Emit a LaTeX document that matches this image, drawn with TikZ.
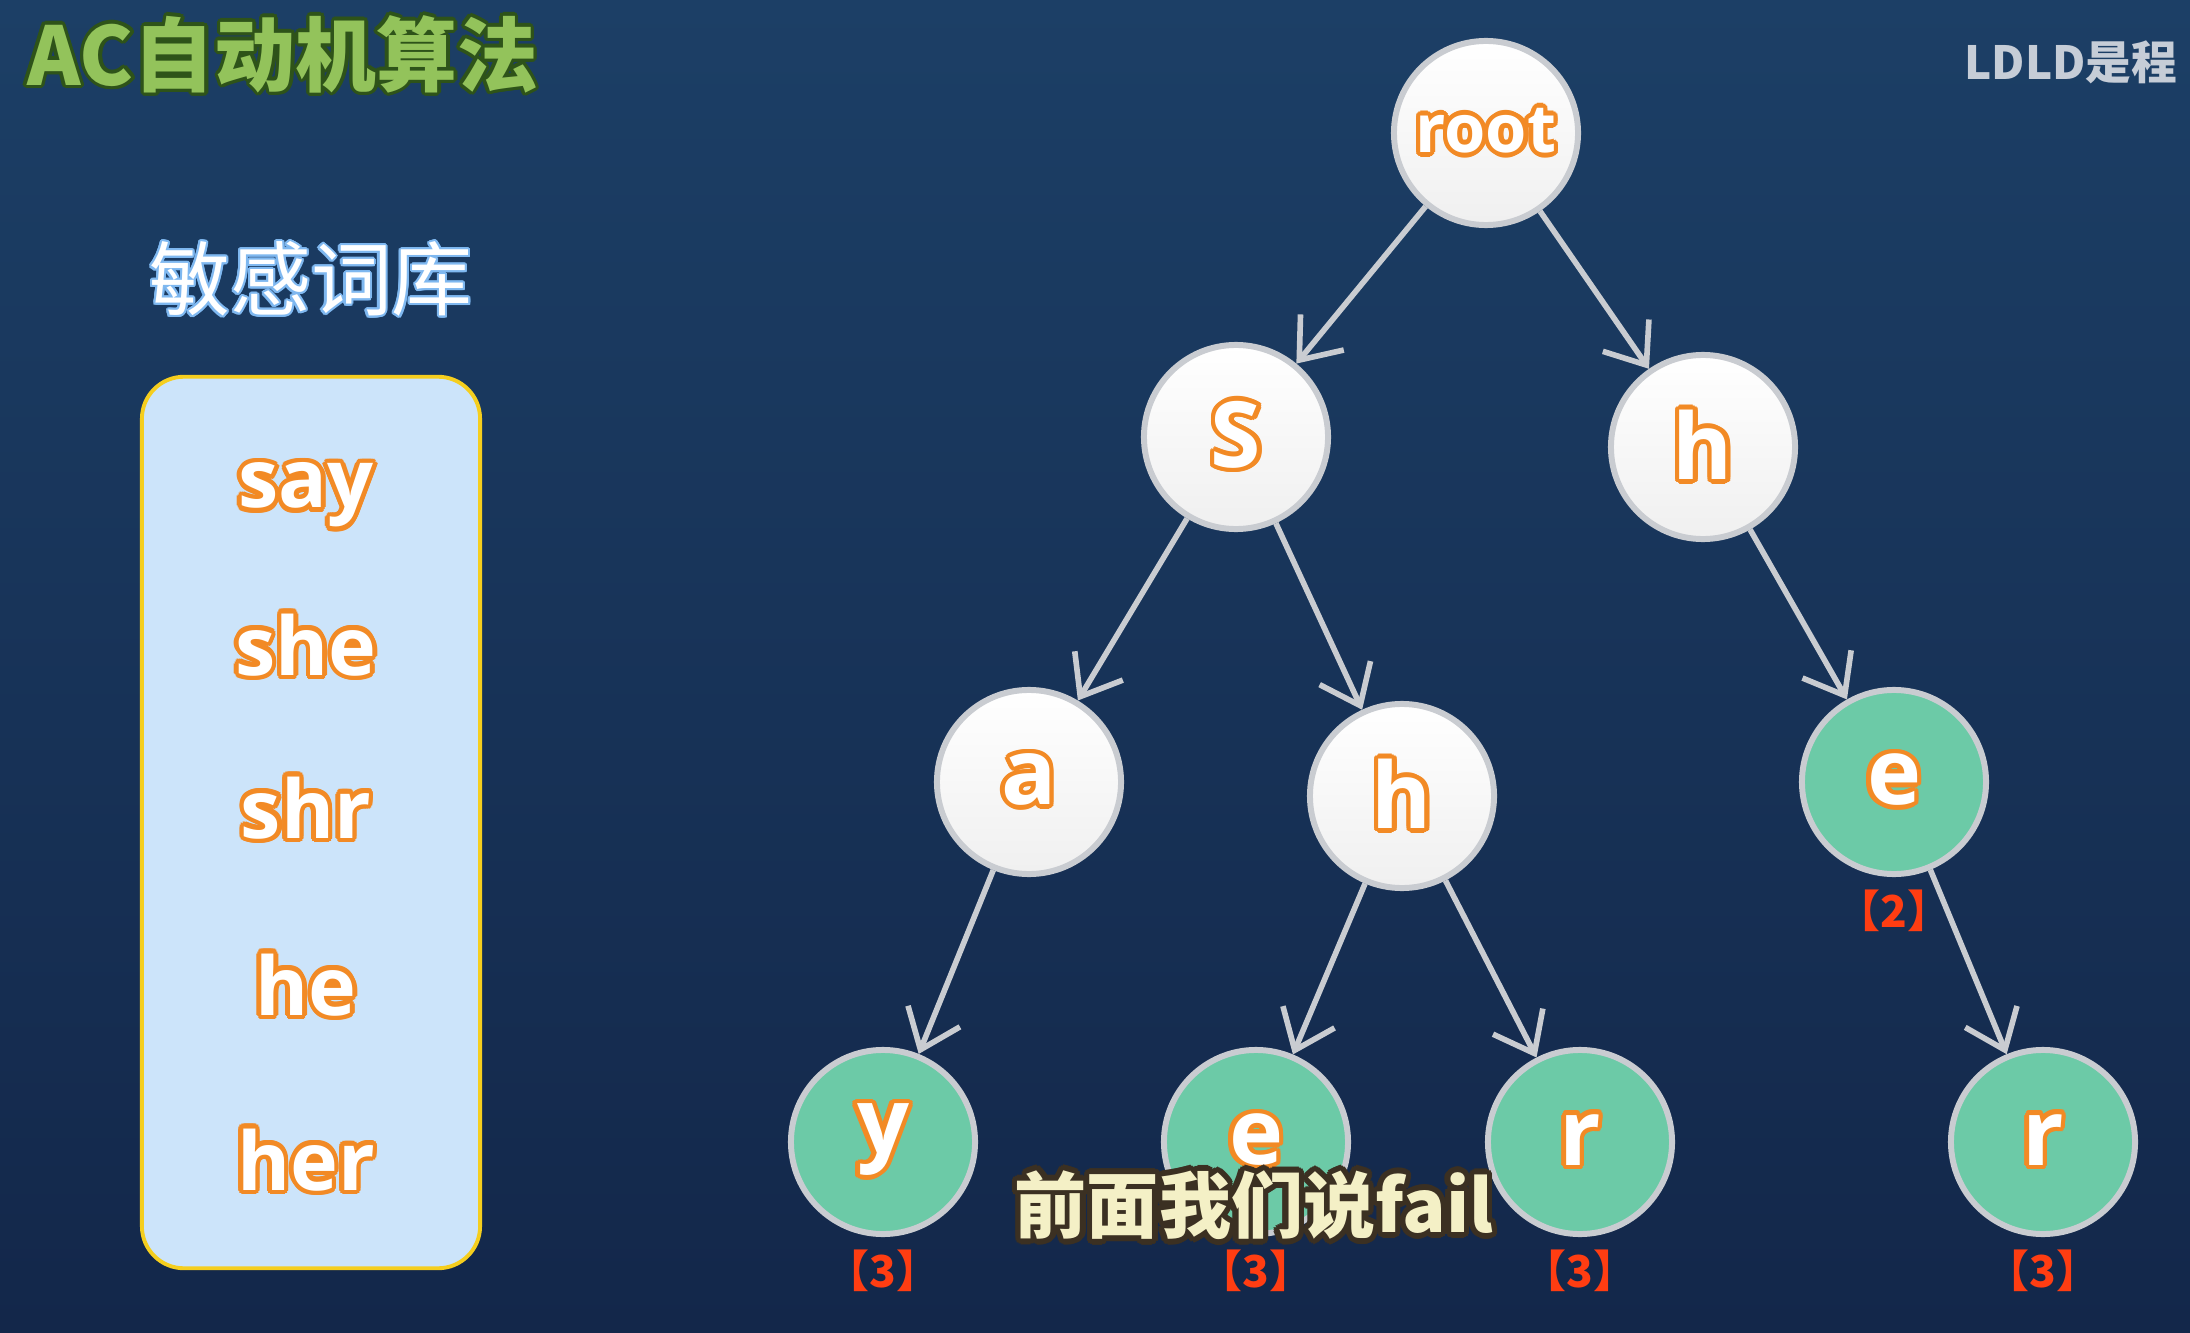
\documentclass[tikz,border=0pt]{standalone}
\usepackage{fontspec}
\usepackage{contour}
\usetikzlibrary{arrows.meta,positioning}
\setmainfont{Open Sans}
\newfontfamily\cjk{Noto Sans CJK SC}
\newfontfamily\cjkhalf{Noto Sans CJK SC}[RawFeature=+halt]
\contourlength{1.3pt}
\definecolor{acnavytop}{HTML}{1C3F66}
\definecolor{acnavybot}{HTML}{13274A}
\definecolor{acorange}{HTML}{F28A25}
\definecolor{acring}{HTML}{C9CCD1}
\definecolor{acleaf}{HTML}{6CCAA7}
\definecolor{acbox}{HTML}{CCE4FA}
\definecolor{acyellow}{HTML}{F5CE1E}
\definecolor{account}{HTML}{FF3D12}
\definecolor{actitle}{HTML}{93C35B}
\definecolor{actitledark}{HTML}{2E5319}
\definecolor{acsub}{HTML}{F4F0C6}
\definecolor{acsubdark}{HTML}{3B3022}
\definecolor{acmark}{HTML}{C6CDD7}
\definecolor{acglow}{HTML}{7FB8F0}
\newcommand{\orword}[1]{\contour{acorange}{\textcolor{white}{#1}}}

\begin{document}
\begin{tikzpicture}[x=0.01cm,y=0.01cm,
  trie/.style={circle,draw=acring,line width=1.7pt,minimum size=1.84cm,inner sep=0pt,
    font=\bfseries\fontsize{26}{30}\selectfont},
  inner/.style={trie,top color=white,bottom color=gray!12},
  leaf/.style={trie,fill=acleaf},
  edge/.style={acring,line width=1.6pt,-{Straight Barb[length=3.6mm,width=5.6mm]}},
  cnt/.style={text=account,font=\cjkhalf\bfseries\fontsize{12.5}{14}\selectfont,inner sep=0pt},
  word/.style={anchor=base,font=\bfseries\fontsize{23}{28}\selectfont}]
  \shade[top color=acnavytop,bottom color=acnavybot] (0,0) rectangle (2190,1332);
  \useasboundingbox (0,0) rectangle (2190,1332);

  \node[anchor=west,text=actitle,font=\cjk\bfseries\fontsize{23}{28}\selectfont] (title) at (15,1276)
    {\contourlength{1pt}\contour{actitledark}{AC自动机算法}};
  \node[anchor=west,text=acmark,font=\cjk\bfseries\fontsize{13}{16}\selectfont] (mark) at (1952,1270) {LDLD是程};

  \node[text=white,font=\cjk\fontsize{23}{28}\selectfont] (libhead) at (311,1052)
    {\contourlength{0.6pt}\contour{acglow}{敏感词库}};
  \node[draw=acyellow,line width=1.1pt,fill=acbox,rounded corners=0.42cm,
    minimum width=3.38cm,minimum height=8.91cm] (lib) at (311,509.5) {};
  \foreach \w/\yy [count=\i] in {say/824,she/657,shr/494,he/317,her/142}
    \node[word] (word\i) at (306,\yy) {\orword{\w}};

  \node[inner] (root) at (1486,1199) {\fontsize{19}{22}\selectfont\orword{root}};
  \node[inner] (s) at (1236,895) {\orword{S}};
  \node[inner] (h) at (1703,885) {\orword{h}};
  \node[inner] (sa) at (1029,550) {\orword{a}};
  \node[inner] (sh) at (1402,536) {\orword{h}};
  \node[leaf] (he) at (1894,550) {\orword{e}};
  \node[leaf] (say) at (883,190) {\orword{y}};
  \node[leaf] (she) at (1256,190) {\orword{e}};
  \node[leaf] (shr) at (1580,190) {\orword{r}};
  \node[leaf] (her) at (2043,190) {\orword{r}};

  \draw[edge] (root) -- (s);
  \draw[edge] (root) -- (h);
  \draw[edge] (s) -- (sa);
  \draw[edge] (s) -- (sh);
  \draw[edge] (h) -- (he);
  \draw[edge] (sa) -- (say);
  \draw[edge] (sh) -- (she);
  \draw[edge] (sh) -- (shr);
  \draw[edge] (he) -- (her);

  \node[cnt,below=0.12cm of he] (hecnt) {【2】};
  \node[cnt,below=0.12cm of say] (saycnt) {【3】};
  \node[cnt,below=0.12cm of she] (shecnt) {【3】};
  \node[cnt,below=0.12cm of shr] (shrcnt) {【3】};
  \node[cnt,below=0.12cm of her] (hercnt) {【3】};

  \node[text=acsub,font=\cjk\bfseries\fontsize{20.5}{24}\selectfont] (sub) at (1254,124)
    {\contourlength{1.6pt}\contour{acsubdark}{前面我们说fail}};
\end{tikzpicture}
\end{document}
